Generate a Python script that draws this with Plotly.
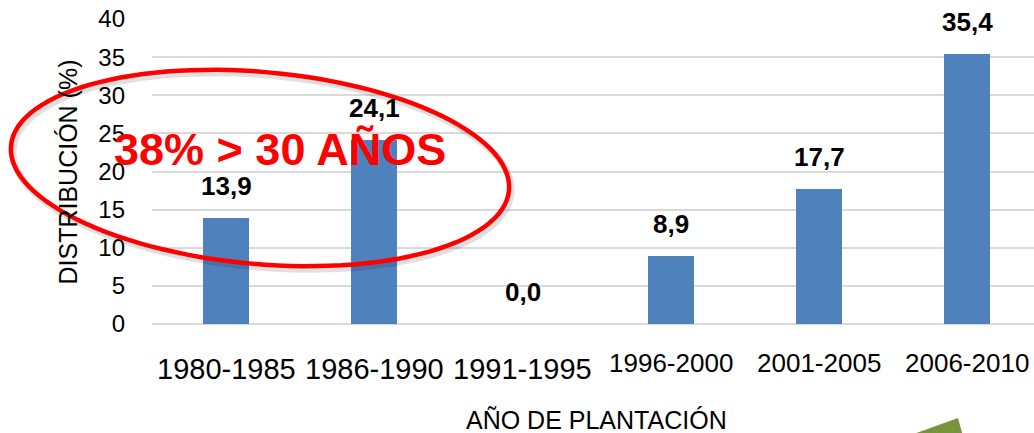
import math
import plotly.graph_objects as go

# ---------------- data ----------------
periods = ["1980-1985", "1986-1990", "1991-1995", "1996-2000", "2001-2005", "2006-2010"]
distribution = [13.9, 24.1, 0.0, 8.9, 17.7, 35.4]
y_ticks = [0, 5, 10, 15, 20, 25, 30, 35, 40]
x_title = "AÑO DE PLANTACIÓN"
y_title = "DISTRIBUCIÓN (%)"
callout = "38% > 30 AÑOS"

# ---------------- layout geometry ----------------
W, H = 1034, 433
ML, MR, MT, MB = 152, 0, 19, 109
PW = W - ML - MR
PH = H - MT - MB

def px(x):
    return (x - ML) / PW

def py(y):
    return (MT + PH - y) / PH

FONT = "Liberation Sans, Arial, sans-serif"

fig = go.Figure()
fig.add_trace(go.Bar(
    x=periods, y=distribution, width=0.31,
    marker=dict(color="#4F81BD", line=dict(width=0)),
    hoverinfo="skip",
))

annotations = []
# data labels
for p, v in zip(periods, distribution):
    annotations.append(dict(
        x=p, y=v, xref="x", yref="y", text=f"{v:.1f}".replace(".", ","),
        showarrow=False, yanchor="bottom", yshift=15,
        font=dict(family=FONT, size=26, color="#000000", weight="bold"),
    ))
# category labels (first three larger/lower, last three smaller/higher as in reference)
for i, p in enumerate(periods):
    big = i < 3
    annotations.append(dict(
        x=p, y=py(369 if big else 362.5), xref="x", yref="paper", text=p,
        showarrow=False, yanchor="middle", xanchor="center",
        font=dict(family=FONT, size=29 if big else 26, color="#000000"),
    ))
# axis titles
annotations.append(dict(
    x=px(596), y=py(419.5), xref="paper", yref="paper", text=x_title,
    showarrow=False, yanchor="middle", xanchor="center",
    font=dict(family=FONT, size=25, color="#000000"),
))
annotations.append(dict(
    x=px(67.5), y=py(172), xref="paper", yref="paper", text=y_title,
    showarrow=False, yanchor="middle", xanchor="center", textangle=-90,
    font=dict(family=FONT, size=25, color="#000000"),
))
# red callout
annotations.append(dict(
    x=px(279.5), y=py(149), xref="paper", yref="paper", text=callout,
    showarrow=False, yanchor="middle", xanchor="center",
    font=dict(family=FONT, size=45, color="#FF0000", weight="bold"),
))

# ellipse path (rotated), built in pixel space and converted to paper coords
cx, cy, a, b, th = 260, 168, 250, 96, math.radians(5.1)
def ellipse_path(dx=0, dy=0):
    pts = []
    for k in range(121):
        t = 2 * math.pi * k / 120
        ex = a * math.cos(t)
        ey = b * math.sin(t)
        X = cx + dx + ex * math.cos(th) - ey * math.sin(th)
        Y = cy + dy + ex * math.sin(th) + ey * math.cos(th)
        pts.append(f"{px(X):.5f},{py(Y):.5f}")
    return "M " + " L ".join(pts) + " Z"

shapes = [
    dict(type="path", xref="paper", yref="paper", path=ellipse_path(2, 3),
         line=dict(color="rgba(0,0,0,0.12)", width=7), layer="above"),
    dict(type="path", xref="paper", yref="paper", path=ellipse_path(),
         line=dict(color="#FF0000", width=4.5), layer="above"),
    # green arrow fragment at bottom-right
    dict(type="path", xref="paper", yref="paper",
         path=f"M {px(897):.5f},{py(440):.5f} L {px(958):.5f},{py(418):.5f} L {px(964):.5f},{py(440):.5f} Z",
         fillcolor="#77933C", line=dict(width=0), layer="above"),
]

fig.update_layout(
    width=W, height=H,
    margin=dict(l=ML, r=MR, t=MT, b=MB, pad=0),
    paper_bgcolor="white", plot_bgcolor="white",
    showlegend=False,
    bargap=0,
    xaxis=dict(type="category", range=[-0.5, 5.45], showticklabels=False,
               showgrid=False, zeroline=False, showline=False, fixedrange=True),
    yaxis=dict(range=[0, 40], tickvals=y_ticks, showgrid=True, gridcolor="#D9D9D9",
               gridwidth=2, zeroline=True, zerolinecolor="#D9D9D9", zerolinewidth=2,
               showline=False, ticks="", ticklabelstandoff=26,
               tickfont=dict(family=FONT, size=24, color="#000000"), fixedrange=True),
    annotations=annotations,
    shapes=shapes,
)

fig.write_html(
    "out.html",
    config={"displayModeBar": False},
    post_script="document.body.style.margin='0px';document.body.style.overflow='hidden';",
)
